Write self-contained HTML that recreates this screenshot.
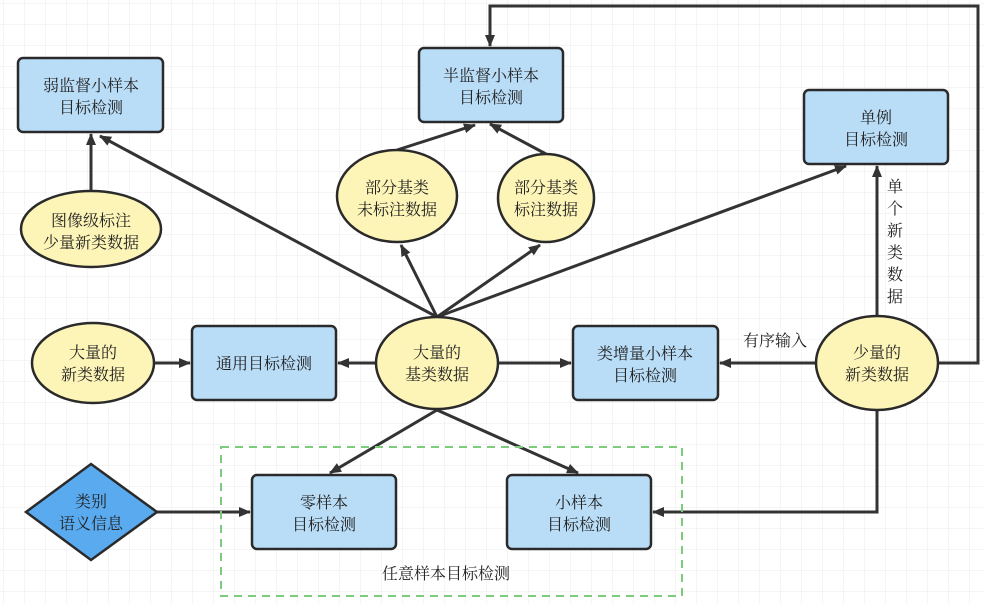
<!DOCTYPE html>
<html><head><meta charset="utf-8"><style>
body{margin:0;background:#fff}
svg{display:block}
text{font-family:"Liberation Serif","Noto Serif CJK SC",serif;font-size:16px;fill:#222;text-anchor:middle}
</style></head><body>
<svg width="985" height="604" viewBox="0 0 985 604" xmlns="http://www.w3.org/2000/svg">
<defs>
<pattern id="g" width="21" height="21" patternUnits="userSpaceOnUse" x="4" y="4">
<path d="M21 0V21M0 21H21" fill="none" stroke="#ebebeb" stroke-width="1"/>
</pattern>
<marker id="a" markerWidth="12" markerHeight="10" refX="11" refY="5" orient="auto" markerUnits="userSpaceOnUse">
<path d="M0,0L12,5L0,10Z" fill="#333"/>
</marker>
</defs>
<rect width="985" height="604" fill="url(#g)"/>
<g stroke="#333" stroke-width="3" fill="none">
<line x1="91" y1="191" x2="91" y2="134" marker-end="url(#a)"/>
<line x1="437" y1="317" x2="100" y2="136" marker-end="url(#a)"/>
<line x1="437" y1="317" x2="401" y2="245" marker-end="url(#a)"/>
<line x1="437" y1="317" x2="540" y2="245" marker-end="url(#a)"/>
<line x1="437" y1="317" x2="846" y2="166" marker-end="url(#a)"/>
<line x1="397" y1="150" x2="475" y2="125" marker-end="url(#a)"/>
<line x1="546" y1="154" x2="490" y2="124" marker-end="url(#a)"/>
<line x1="877" y1="316" x2="877" y2="166" marker-end="url(#a)"/>
<polyline points="938,363 978,363 978,6 490,6 490,46" marker-end="url(#a)"/>
<line x1="816" y1="363" x2="720" y2="363" marker-end="url(#a)"/>
<line x1="498" y1="363" x2="571" y2="363" marker-end="url(#a)"/>
<line x1="376" y1="363" x2="338" y2="363" marker-end="url(#a)"/>
<line x1="154" y1="363" x2="190" y2="363" marker-end="url(#a)"/>
<line x1="437" y1="410" x2="330" y2="473" marker-end="url(#a)"/>
<line x1="437" y1="410" x2="578" y2="473" marker-end="url(#a)"/>
<line x1="157" y1="512" x2="250" y2="512" marker-end="url(#a)"/>
<polyline points="877,410 877,512 653,512" marker-end="url(#a)"/>
</g>
<rect x="221" y="447" width="461" height="149" fill="none" stroke="#7ccc7c" stroke-width="2" stroke-dasharray="8,6"/>
<g stroke="#2a2a2a" stroke-width="2.5">
<rect x="18" y="58" width="145" height="74" rx="5" fill="#b9dcf7"/>
<rect x="419" y="48" width="144" height="74" rx="5" fill="#b9dcf7"/>
<rect x="804" y="90" width="144" height="74" rx="5" fill="#b9dcf7"/>
<rect x="192" y="326" width="144" height="74" rx="5" fill="#b9dcf7"/>
<rect x="573" y="326" width="145" height="74" rx="5" fill="#b9dcf7"/>
<rect x="252" y="475" width="144" height="74" rx="5" fill="#b9dcf7"/>
<rect x="507" y="475" width="144" height="74" rx="5" fill="#b9dcf7"/>
<ellipse cx="91" cy="229" rx="70" ry="38" fill="#fdf5b8"/>
<ellipse cx="397" cy="196" rx="60" ry="46" fill="#fdf5b8"/>
<ellipse cx="546" cy="198" rx="48" ry="44" fill="#fdf5b8"/>
<ellipse cx="93" cy="363" rx="61" ry="40" fill="#fdf5b8"/>
<ellipse cx="437" cy="363" rx="61" ry="46" fill="#fdf5b8"/>
<ellipse cx="877" cy="363" rx="61" ry="47" fill="#fdf5b8"/>
<polygon points="91,464 157,512 91,560 26,512" fill="#5aaaf0"/>
</g>
<text x="91" y="91">弱监督小样本</text><text x="91" y="113">目标检测</text>
<text x="491" y="81">半监督小样本</text><text x="491" y="103">目标检测</text>
<text x="876" y="123">单例</text><text x="876" y="145">目标检测</text>
<text x="264" y="369">通用目标检测</text>
<text x="645" y="359">类增量小样本</text><text x="645" y="381">目标检测</text>
<text x="324" y="508">零样本</text><text x="324" y="530">目标检测</text>
<text x="579" y="508">小样本</text><text x="579" y="530">目标检测</text>
<text x="91" y="226">图像级标注</text><text x="91" y="248">少量新类数据</text>
<text x="397" y="193">部分基类</text><text x="397" y="215">未标注数据</text>
<text x="546" y="193">部分基类</text><text x="546" y="215">标注数据</text>
<text x="93" y="358">大量的</text><text x="93" y="380">新类数据</text>
<text x="437" y="358">大量的</text><text x="437" y="380">基类数据</text>
<text x="877" y="358">少量的</text><text x="877" y="380">新类数据</text>
<text x="91" y="507">类别</text><text x="91" y="529">语义信息</text>
<text x="775" y="346">有序输入</text>
<text x="895" y="192">单</text><text x="895" y="214">个</text><text x="895" y="236">新</text><text x="895" y="258">类</text><text x="895" y="280">数</text><text x="895" y="302">据</text>
<text x="446" y="579">任意样本目标检测</text>
</svg>
</body></html>
